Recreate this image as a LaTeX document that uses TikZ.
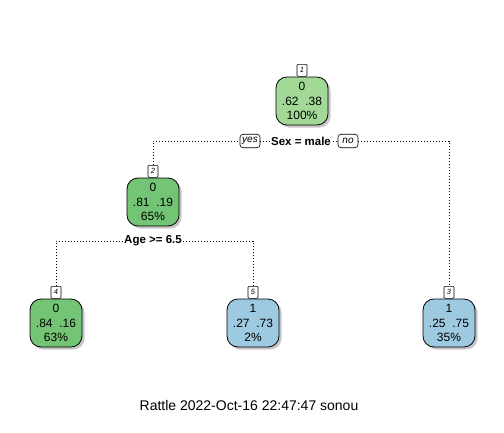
\documentclass[tikz,border=0pt]{standalone}
\usepackage{fontspec}
\setmainfont{Liberation Sans}
\usetikzlibrary{shadows}

\definecolor{lightgreen}{RGB}{163,217,151}
\definecolor{midgreen}{RGB}{116,196,118}
\definecolor{lightblue}{RGB}{158,202,225}

\begin{document}
\begin{tikzpicture}[x=1pt,y=-1pt,
	leaf/.style={draw, line width=0.8pt, rounded corners=11pt,
		minimum width=52pt, minimum height=48pt, inner sep=0pt, align=center,
		font=\fontsize{12}{14.5}\selectfont,
		drop shadow={shadow xshift=2.5pt, shadow yshift=-2.5pt, opacity=0.45}},
	tag/.style={draw, fill=white, line width=0.6pt, rounded corners=1pt,
		minimum width=10pt, minimum height=12pt, inner sep=0.5pt,
		font=\fontsize{7.5}{7.5}\itshape\selectfont},
	split/.style={fill=white, inner sep=1.5pt, font=\fontsize{11.5}{12}\bfseries\selectfont},
	yesno/.style={draw, fill=white, line width=0.6pt, rounded corners=3pt,
		inner sep=2pt, minimum height=13.5pt, minimum width=20pt,
		font=\fontsize{10}{10}\itshape\selectfont},
	branch/.style={dash pattern=on 0.9pt off 2.1pt, line width=0.7pt}]
\useasboundingbox (0,0) rectangle (504,432);

% nodes of the tree
\node[leaf, fill=lightgreen] (n1) at (302,101) {0\\.62\ \ .38\\100\%};
\node[leaf, fill=midgreen] (n2) at (153,202) {0\\.81\ \ .19\\65\%};
\node[leaf, fill=midgreen] (n4) at (56,323) {0\\.84\ \ .16\\63\%};
\node[leaf, fill=lightblue] (n5) at (253,323) {1\\.27\ \ .73\\2\%};
\node[leaf, fill=lightblue] (n3) at (449,323) {1\\.25\ \ .75\\35\%};

% node numbers
\node[tag, anchor=south] (t1) at (n1.north) {1};
\node[tag, anchor=south] (t2) at (n2.north) {2};
\node[tag, anchor=south] (t4) at (n4.north) {4};
\node[tag, anchor=south] (t5) at (n5.north) {5};
\node[tag, anchor=south] (t3) at (n3.north) {3};

% splits
\node[split] (s1) at (301,141) {Sex = male};
\node[yesno] (yes) at (250,141) {yes};
\node[yesno] (no) at (348,141) {no};
\node[split] (s2) at (153,241) {Age >= 6.5};

\draw[branch] (t2.north) |- (yes.west);
\draw[branch] (yes.east) -- (s1.west);
\draw[branch] (s1.east) -- (no.west);
\draw[branch] (no.east) -| (t3.north);
\draw[branch] (t4.north) |- (s2.west);
\draw[branch] (s2.east) -| (t5.north);

\node[font=\fontsize{14}{16}\selectfont] (caption) at (249,405) {Rattle 2022-Oct-16 22:47:47 sonou};
\end{tikzpicture}
\end{document}
